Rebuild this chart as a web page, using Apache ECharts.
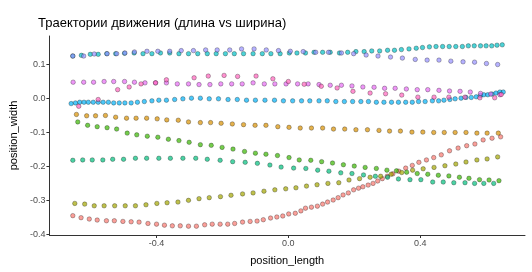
<!DOCTYPE html>
<html>
<head>
<meta charset="utf-8">
<script src="https://cdn.jsdelivr.net/npm/echarts@6/dist/echarts.min.js"></script>
<style>
  html, body { margin: 0; padding: 0; background: #fff; }
  #chart { width: 532px; height: 272px; }
</style>
</head>
<body>
<div id="chart"></div>
<script>
// траектории: [position_length, position_width]
const trajRed = [[-0.654,-0.345],[-0.629,-0.351],[-0.604,-0.355],[-0.580,-0.358],[-0.552,-0.360],[-0.528,-0.360],[-0.502,-0.362],[-0.477,-0.363],[-0.453,-0.364],[-0.426,-0.368],[-0.400,-0.370],[-0.376,-0.373],[-0.352,-0.375],[-0.328,-0.375],[-0.303,-0.376],[-0.279,-0.376],[-0.254,-0.372],[-0.231,-0.370],[-0.207,-0.370],[-0.184,-0.370],[-0.163,-0.368],[-0.139,-0.364],[-0.116,-0.362],[-0.095,-0.361],[-0.076,-0.357],[-0.054,-0.352],[-0.035,-0.349],[-0.017,-0.346],[0.001,-0.340],[0.021,-0.338],[0.038,-0.331],[0.052,-0.323],[0.070,-0.320],[0.088,-0.317],[0.104,-0.311],[0.119,-0.305],[0.136,-0.299],[0.151,-0.292],[0.166,-0.284],[0.182,-0.278],[0.198,-0.269],[0.213,-0.264],[0.226,-0.260],[0.242,-0.255],[0.257,-0.250],[0.271,-0.243],[0.285,-0.236],[0.300,-0.229],[0.317,-0.222],[0.335,-0.214],[0.356,-0.205],[0.376,-0.197],[0.396,-0.188],[0.419,-0.181],[0.441,-0.174],[0.464,-0.166],[0.489,-0.154],[0.515,-0.146],[0.541,-0.139],[0.566,-0.134],[0.591,-0.122],[0.618,-0.117],[0.644,-0.113]];
const trajOrange = [[-0.643,-0.047],[-0.612,-0.051],[-0.585,-0.051],[-0.555,-0.050],[-0.524,-0.055],[-0.491,-0.058],[-0.462,-0.058],[-0.430,-0.058],[-0.398,-0.060],[-0.369,-0.063],[-0.334,-0.064],[-0.303,-0.069],[-0.267,-0.071],[-0.236,-0.071],[-0.204,-0.073],[-0.170,-0.075],[-0.136,-0.077],[-0.101,-0.079],[-0.068,-0.079],[-0.032,-0.083],[0.002,-0.085],[0.036,-0.087],[0.070,-0.087],[0.104,-0.087],[0.137,-0.090],[0.171,-0.090],[0.205,-0.092],[0.240,-0.092],[0.275,-0.094],[0.307,-0.096],[0.340,-0.096],[0.375,-0.099],[0.408,-0.099],[0.441,-0.100],[0.473,-0.100],[0.506,-0.100],[0.539,-0.100],[0.572,-0.102],[0.603,-0.102],[0.637,-0.102]];
const trajOlive = [[-0.648,-0.309],[-0.618,-0.311],[-0.589,-0.316],[-0.559,-0.316],[-0.527,-0.316],[-0.495,-0.316],[-0.464,-0.316],[-0.432,-0.313],[-0.399,-0.309],[-0.368,-0.307],[-0.335,-0.305],[-0.303,-0.300],[-0.271,-0.295],[-0.240,-0.292],[-0.206,-0.289],[-0.174,-0.285],[-0.139,-0.281],[-0.107,-0.278],[-0.074,-0.273],[-0.041,-0.269],[-0.008,-0.266],[0.023,-0.263],[0.055,-0.258],[0.087,-0.254],[0.120,-0.250],[0.153,-0.248],[0.184,-0.240],[0.216,-0.236],[0.248,-0.232],[0.280,-0.229],[0.312,-0.223],[0.344,-0.218],[0.377,-0.211],[0.409,-0.207],[0.442,-0.203],[0.475,-0.198],[0.508,-0.193],[0.539,-0.187],[0.572,-0.181],[0.603,-0.178],[0.635,-0.172]];
const trajGreen = [[-0.639,-0.069],[-0.609,-0.079],[-0.580,-0.083],[-0.550,-0.086],[-0.521,-0.090],[-0.489,-0.102],[-0.460,-0.107],[-0.428,-0.111],[-0.396,-0.114],[-0.364,-0.120],[-0.332,-0.124],[-0.301,-0.129],[-0.267,-0.136],[-0.234,-0.138],[-0.201,-0.144],[-0.168,-0.149],[-0.133,-0.156],[-0.100,-0.161],[-0.068,-0.164],[-0.033,-0.168],[0.002,-0.174],[0.033,-0.181],[0.068,-0.182],[0.101,-0.186],[0.134,-0.190],[0.167,-0.195],[0.200,-0.199],[0.233,-0.203],[0.267,-0.206],[0.299,-0.211],[0.328,-0.213],[0.359,-0.217],[0.391,-0.221],[0.423,-0.223],[0.455,-0.226],[0.487,-0.228],[0.519,-0.232],[0.548,-0.235],[0.580,-0.239],[0.609,-0.240],[0.639,-0.242]];
const trajTeal = [[-0.654,-0.182],[-0.624,-0.181],[-0.595,-0.181],[-0.563,-0.181],[-0.533,-0.179],[-0.500,-0.179],[-0.464,-0.176],[-0.430,-0.176],[-0.393,-0.176],[-0.358,-0.176],[-0.320,-0.176],[-0.281,-0.176],[-0.246,-0.179],[-0.207,-0.182],[-0.169,-0.186],[-0.131,-0.188],[-0.094,-0.191],[-0.056,-0.196],[-0.022,-0.202],[0.016,-0.205],[0.053,-0.206],[0.089,-0.211],[0.123,-0.214],[0.159,-0.219],[0.193,-0.221],[0.228,-0.225],[0.264,-0.229],[0.301,-0.232],[0.334,-0.237],[0.369,-0.239],[0.402,-0.239],[0.438,-0.246],[0.470,-0.246],[0.502,-0.248],[0.536,-0.248],[0.565,-0.250],[0.593,-0.250],[0.623,-0.250]];
const trajCyan = [[-0.654,0.125],[-0.628,0.127],[-0.601,0.130],[-0.577,0.130],[-0.551,0.132],[-0.524,0.132],[-0.497,0.133],[-0.468,0.134],[-0.441,0.132],[-0.414,0.132],[-0.388,0.134],[-0.360,0.134],[-0.332,0.132],[-0.303,0.132],[-0.275,0.132],[-0.246,0.132],[-0.219,0.132],[-0.191,0.132],[-0.164,0.132],[-0.136,0.132],[-0.107,0.132],[-0.079,0.132],[-0.053,0.132],[-0.025,0.132],[0.003,0.134],[0.026,0.134],[0.052,0.134],[0.078,0.136],[0.104,0.136],[0.127,0.136],[0.155,0.134],[0.180,0.136],[0.205,0.138],[0.230,0.138],[0.253,0.140],[0.277,0.140],[0.301,0.142],[0.322,0.142],[0.343,0.144],[0.366,0.146],[0.388,0.148],[0.407,0.150],[0.428,0.152],[0.448,0.153],[0.468,0.153],[0.488,0.153],[0.508,0.153],[0.528,0.153],[0.546,0.155],[0.564,0.155],[0.583,0.155],[0.600,0.155],[0.617,0.155],[0.633,0.157],[0.649,0.158]];
const trajBlue = [[-0.659,-0.015],[-0.646,-0.013],[-0.633,-0.011],[-0.620,-0.011],[-0.607,-0.011],[-0.592,-0.011],[-0.577,-0.011],[-0.562,-0.011],[-0.546,-0.011],[-0.530,-0.013],[-0.513,-0.013],[-0.496,-0.013],[-0.477,-0.013],[-0.458,-0.011],[-0.437,-0.009],[-0.414,-0.007],[-0.393,-0.005],[-0.370,-0.005],[-0.345,-0.003],[-0.320,-0.001],[-0.294,0.001],[-0.267,0.001],[-0.240,-0.001],[-0.212,-0.001],[-0.183,-0.003],[-0.155,-0.003],[-0.127,-0.005],[-0.100,-0.005],[-0.071,-0.005],[-0.042,-0.005],[-0.015,-0.007],[0.013,-0.007],[0.040,-0.007],[0.065,-0.007],[0.093,-0.007],[0.118,-0.007],[0.144,-0.009],[0.170,-0.009],[0.195,-0.009],[0.220,-0.009],[0.243,-0.009],[0.267,-0.011],[0.290,-0.011],[0.313,-0.011],[0.334,-0.011],[0.356,-0.011],[0.376,-0.011],[0.395,-0.009],[0.415,-0.009],[0.437,-0.007],[0.456,-0.007],[0.472,-0.005],[0.490,-0.003],[0.506,-0.001],[0.524,0.001],[0.539,0.003],[0.555,0.003],[0.570,0.005],[0.583,0.009],[0.593,0.011],[0.605,0.011],[0.618,0.013],[0.630,0.016],[0.642,0.019],[0.652,0.019]];
const trajPurple = [[-0.654,0.125],[-0.621,0.125],[-0.589,0.131],[-0.550,0.132],[-0.521,0.132],[-0.496,0.134],[-0.467,0.137],[-0.429,0.139],[-0.396,0.139],[-0.360,0.139],[-0.325,0.141],[-0.288,0.141],[-0.251,0.143],[-0.216,0.143],[-0.178,0.143],[-0.142,0.146],[-0.104,0.146],[-0.067,0.143],[-0.030,0.141],[0.006,0.139],[0.045,0.138],[0.083,0.136],[0.122,0.136],[0.161,0.134],[0.198,0.132],[0.236,0.128],[0.272,0.125],[0.310,0.122],[0.346,0.119],[0.385,0.115],[0.421,0.113],[0.457,0.113],[0.493,0.110],[0.530,0.108],[0.565,0.107],[0.601,0.103],[0.635,0.100]];
const trajMagenta = [[-0.653,0.048],[-0.621,0.048],[-0.591,0.048],[-0.559,0.050],[-0.530,0.050],[-0.497,0.050],[-0.467,0.048],[-0.435,0.046],[-0.403,0.046],[-0.370,0.046],[-0.337,0.043],[-0.303,0.043],[-0.271,0.041],[-0.238,0.041],[-0.205,0.043],[-0.172,0.043],[-0.140,0.043],[-0.107,0.046],[-0.073,0.043],[-0.041,0.043],[-0.007,0.043],[0.028,0.043],[0.060,0.043],[0.093,0.041],[0.127,0.039],[0.161,0.039],[0.193,0.037],[0.226,0.034],[0.260,0.033],[0.292,0.030],[0.324,0.030],[0.358,0.028],[0.391,0.026],[0.423,0.026],[0.457,0.024],[0.489,0.022],[0.521,0.021],[0.552,0.019],[0.583,0.015],[0.614,0.013],[0.642,0.011]];
const trajPink = [[-0.636,-0.023],[-0.577,-0.003],[-0.518,0.026],[-0.483,0.034],[-0.447,0.043],[-0.403,0.046],[-0.370,0.055],[-0.286,0.061],[-0.243,0.066],[-0.195,0.068],[-0.154,0.065],[-0.098,0.066],[-0.047,0.058],[0.000,0.050],[0.048,0.042],[0.100,0.036],[0.148,0.031],[0.196,0.021],[0.248,0.016],[0.295,0.014],[0.344,0.010],[0.393,0.004],[0.442,0.004],[0.487,0.004],[0.536,0.004],[0.581,0.002],[0.626,0.002],[0.646,0.012]];

const trajectories = [trajRed, trajOrange, trajOlive, trajGreen, trajTeal, trajCyan, trajBlue, trajPurple, trajMagenta, trajPink];
const colors = ['#F8766D', '#D89000', '#A3A500', '#39B600', '#00BF7D', '#00BFC4', '#00B0F6', '#9590FF', '#E76BF3', '#FF62BC'];
const xTicks = [-0.4, 0.0, 0.4];
const yTicks = [-0.4, -0.3, -0.2, -0.1, 0.0, 0.1];

const myChart = echarts.init(document.getElementById('chart'), null, { renderer: 'canvas' });

const series = trajectories.map((d, i) => ({
  name: 'traj' + (i + 1),
  type: 'scatter',
  data: d,
  symbol: 'circle',
  symbolSize: 4.5,
  itemStyle: {
    color: colors[i],
    opacity: 0.7,
    borderColor: 'rgba(0,0,0,0.8)',
    borderWidth: 0.5
  }
}));

const option = {
  animation: false,
  backgroundColor: '#fff',
  textStyle: { fontFamily: 'Liberation Sans, Arial, sans-serif' },
  title: {
    text: 'Траектории движения (длина vs ширина)',
    left: 33,
    top: 12,
    textStyle: { fontSize: 13, fontWeight: 'normal', color: '#000' }
  },
  grid: { left: 38, right: 7, top: 36, bottom: 37, containLabel: false },
  xAxis: {
    type: 'value',
    min: -0.725,
    max: 0.718,
    name: 'position_length',
    nameLocation: 'middle',
    nameGap: 20,
    nameTextStyle: { fontSize: 11, color: '#000' },
    axisLine: { show: true, onZero: false, lineStyle: { color: '#333', width: 1 } },
    axisTick: { show: true, length: 3, lineStyle: { color: '#333' }, customValues: xTicks },
    axisLabel: { color: '#4d4d4d', fontSize: 9, margin: 4, customValues: xTicks,
      formatter: v => v.toFixed(1) },
    splitLine: { show: false }
  },
  yAxis: {
    type: 'value',
    min: -0.402,
    max: 0.184,
    name: 'position_width',
    nameLocation: 'middle',
    nameGap: 30,
    nameTextStyle: { fontSize: 11, color: '#000' },
    axisLine: { show: true, onZero: false, lineStyle: { color: '#333', width: 1 } },
    axisTick: { show: true, length: 3, lineStyle: { color: '#333' }, customValues: yTicks },
    axisLabel: { color: '#4d4d4d', fontSize: 9, margin: 4, customValues: yTicks,
      formatter: v => v.toFixed(1) },
    splitLine: { show: false }
  },
  series: series
};

myChart.setOption(option);
</script>
</body>
</html>
